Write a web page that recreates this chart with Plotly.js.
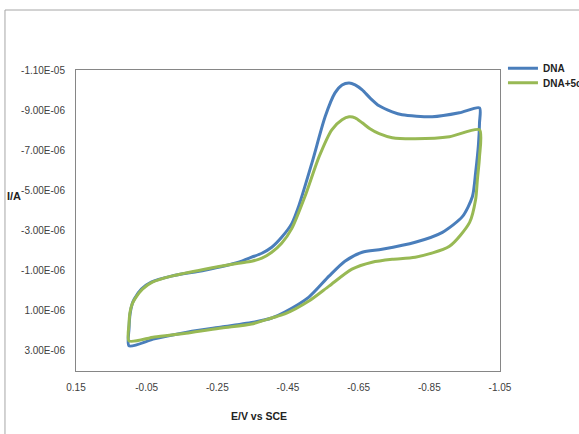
<!DOCTYPE html>
<html>
<head>
<meta charset="utf-8">
<script src="https://cdn.plot.ly/plotly-3.0.1.min.js"></script>
<style>
  html, body { margin: 0; padding: 0; background: #fff; overflow: hidden; }
  #chart { width: 620px; height: 434px; }
</style>
</head>
<body>
<div id="chart"></div>
<script>
// Potential (V vs SCE) and current (µA), traced around each loop
const dnaPotential = [0.000, 0.000, -0.003, -0.009, -0.015, -0.035, -0.063, -0.120, -0.214, -0.310, -0.347, -0.376, -0.404, -0.432, -0.461, -0.481, -0.518, -0.555, -0.583, -0.603, -0.623, -0.640, -0.660, -0.682, -0.708, -0.745, -0.773, -0.858, -0.935, -0.992,
  -0.992, -0.989, -0.981, -0.972, -0.944, -0.887, -0.810, -0.716, -0.660, -0.611, -0.566, -0.509, -0.441, -0.404, -0.356, -0.262, -0.168, -0.072, 0.000];
const dnaCurrent = [2.747, 1.904, 1.159, 0.663, 0.415, -0.081, -0.429, -0.727, -1.024, -1.422, -1.670, -1.868, -2.166, -2.662, -3.357, -4.250, -6.384, -8.667, -9.858, -10.256, -10.355, -10.256, -10.007, -9.610, -9.213, -8.916, -8.767, -8.667, -8.866, -9.114,
  -8.370, -7.278, -5.888, -4.697, -3.704, -2.910, -2.414, -2.067, -1.918, -1.471, -0.727, 0.316, 1.060, 1.358, 1.556, 1.805, 2.053, 2.400, 2.747];

const dna5cPotential = [0.000, 0.000, -0.003, -0.009, -0.018, -0.038, -0.066, -0.120, -0.214, -0.310, -0.347, -0.376, -0.404, -0.432, -0.461, -0.498, -0.538, -0.574, -0.603, -0.623, -0.640, -0.660, -0.682, -0.708, -0.745, -0.810, -0.907, -0.992,
  -0.992, -0.986, -0.981, -0.964, -0.907, -0.810, -0.745, -0.688, -0.631, -0.566, -0.509, -0.441, -0.404, -0.347, -0.262, -0.168, -0.072, 0.000];
const dna5cCurrent = [2.499, 1.656, 1.060, 0.663, 0.365, -0.081, -0.429, -0.727, -1.074, -1.372, -1.471, -1.620, -1.918, -2.364, -3.109, -4.697, -6.682, -8.022, -8.518, -8.667, -8.618, -8.370, -8.072, -7.824, -7.625, -7.576, -7.675, -8.022,
  -6.682, -5.541, -4.548, -3.407, -2.216, -1.670, -1.570, -1.422, -1.074, -0.230, 0.514, 1.159, 1.358, 1.656, 1.854, 2.102, 2.301, 2.499];

const seriesNames = ["DNA", "DNA+5c"];
const xTickVals = [0.15, -0.05, -0.25, -0.45, -0.65, -0.85, -1.05];
const xTickText = ["0.15", "-0.05", "-0.25", "-0.45", "-0.65", "-0.85", "-1.05"];
const yTickVals = [-1.1e-5, -9e-6, -7e-6, -5e-6, -3e-6, -1e-6, 1e-6, 3e-6];
const yTickText = ["-1.10E-05", "-9.00E-06", "-7.00E-06", "-5.00E-06", "-3.00E-06", "-1.00E-06", "1.00E-06", "3.00E-06"];

const toAmp = a => a.map(v => v * 1e-6);
const FONT = "'Liberation Sans', Arial, sans-serif";
const legendFont = { family: FONT, size: 10, color: "#222", weight: "bold" };

const traces = [
  { x: dnaPotential, y: toAmp(dnaCurrent), name: seriesNames[0], type: "scatter", mode: "lines",
    line: { color: "#4A7EBB", width: 3, shape: "spline", smoothing: 0.7 }, legend: "legend" },
  { x: dna5cPotential, y: toAmp(dna5cCurrent), name: seriesNames[1], type: "scatter", mode: "lines",
    line: { color: "#98B954", width: 3, shape: "spline", smoothing: 0.7 }, legend: "legend2" }
];

const layout = {
  width: 620, height: 434,
  margin: { l: 76, r: 120, t: 70, b: 63 },
  paper_bgcolor: "#fff", plot_bgcolor: "#fff",
  font: { family: FONT, size: 10, color: "#404040" },
  showlegend: true,
  legend: { x: 1.007, xanchor: "left", y: 1.054, yanchor: "top", font: legendFont, bgcolor: "rgba(0,0,0,0)" },
  legend2: { x: 1.007, xanchor: "left", y: 1.006, yanchor: "top", font: legendFont, bgcolor: "rgba(0,0,0,0)" },
  xaxis: { range: [0.15, -1.05], tickmode: "array", tickvals: xTickVals, ticktext: xTickText,
           showgrid: false, zeroline: false, showline: true, mirror: true, linecolor: "#868686", linewidth: 1,
           ticks: "", ticklabelstandoff: 7, tickfont: { family: FONT, size: 10, color: "#404040" } },
  yaxis: { range: [4e-6, -1.1e-5], tickmode: "array", tickvals: yTickVals, ticktext: yTickText,
           showgrid: false, zeroline: false, showline: true, mirror: true, linecolor: "#868686", linewidth: 1,
           ticks: "", ticklabelstandoff: 8, tickfont: { family: FONT, size: 10, color: "#404040" } },
  annotations: [
    { text: "E/V vs SCE", xref: "paper", yref: "paper", x: 0.4316, y: -0.15, xanchor: "center", yanchor: "middle",
      showarrow: false, font: { family: FONT, size: 10.5, color: "#222", weight: "bold" } },
    { text: "I/A", xref: "paper", yref: "paper", x: -0.146, y: 0.58, xanchor: "center", yanchor: "middle",
      showarrow: false, font: { family: FONT, size: 11, color: "#222", weight: "bold" } }
  ],
  shapes: [
    { type: "rect", xref: "paper", yref: "paper", x0: -0.1675, y0: -0.4, x1: 1.4, y1: 1.1993,
      line: { color: "#a6a6a6", width: 1 }, fillcolor: "rgba(0,0,0,0)", layer: "below" }
  ]
};

Plotly.newPlot("chart", traces, layout, { staticPlot: true, displayModeBar: false });
</script>
</body>
</html>
